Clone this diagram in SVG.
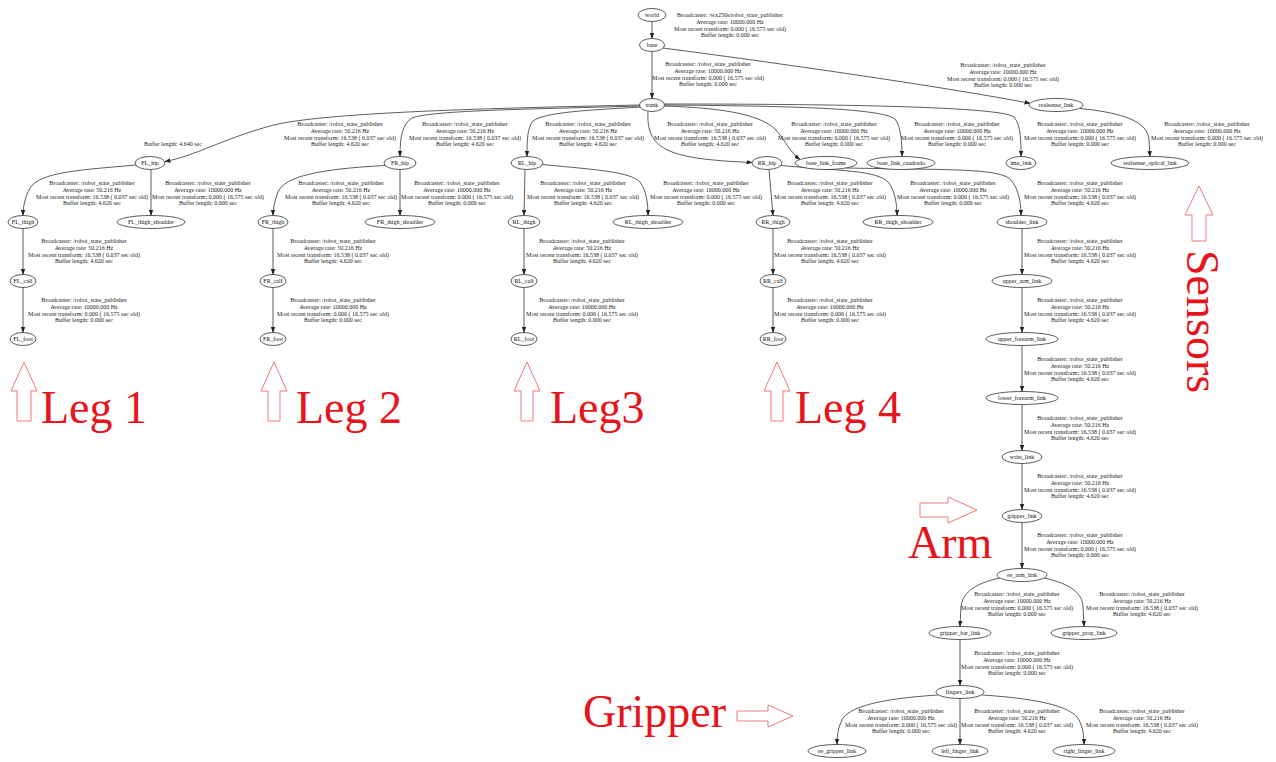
<svg xmlns="http://www.w3.org/2000/svg" width="1276" height="762" viewBox="0 0 1276 762">
<defs>
  <marker id="ah" markerWidth="6" markerHeight="5" refX="5.5" refY="2.5" orient="auto" markerUnits="userSpaceOnUse">
    <path d="M0,0.3 L6,2.5 L0,4.7 z" fill="#222"/>
  </marker>
</defs>
<style>
  .n ellipse { fill: #fff; stroke: #333; stroke-width: 0.8; }
  .n text { font-family: "Liberation Serif", serif; font-size: 6px; text-anchor: middle; fill: #111; }
  .e path { fill: none; stroke: #333; stroke-width: 0.8; marker-end: url(#ah); }
  .lbl { font-family: "Liberation Serif", serif; font-size: 6px; text-anchor: middle; fill: #222; }
  .red { font-family: "Liberation Serif", serif; font-size: 46px; fill: #e8141b; }
  .hol { fill: none; stroke: #f27878; stroke-width: 1; }
</style>
<rect width="1276" height="762" fill="#fff"/>

<!-- connectors -->
<g id="edges" class="e">
  <path d="M652,21.5 L652,38.5"/>
  <path d="M652,51.5 L652,98.5"/>
  <path d="M663,48 C800,66 950,88 1030,103.3"/>
  <path d="M1080,108.5 C1125,113 1148,122 1149,140 L1150,156.5"/>
  <path d="M640,105 C500,108 320,112 270,126 C220,140 195,156 165,161.5"/>
  <path d="M640,106 C540,109 432,110 412,118 C402,124 400,138 400,156.5"/>
  <path d="M641,107 C590,110 545,112 533,121 C527,128 527,142 527,156.5"/>
  <path d="M648,111.5 C646,150 668,159 752,162.5"/>
  <path d="M664,106 C730,108 762,116 776,130 C786,142 790,152 800,159.5"/>
  <path d="M664,105 C790,106 880,108 895,119 C901,127 902,142 902,156.5"/>
  <path d="M664,104 C820,104 1000,106 1014,117 C1021,125 1021,142 1021,156.5"/>
  <path d="M136,165 C80,170 40,172 30,188 C25,197 23,207 23,215.5"/>
  <path d="M151,169.5 L151,215.5"/>
  <path d="M385,165.5 C320,169 285,176 278,192 C275,200 273,208 273,215.5"/>
  <path d="M400,169.5 L400,215.5"/>
  <path d="M525,169.5 L524,215.5"/>
  <path d="M542,164.5 C600,170 630,172 640,182 C646,190 648,202 648,215.5"/>
  <path d="M769,169.5 L773,215.5"/>
  <path d="M781,165.5 C840,171 878,170 889,183 C895,192 897,204 897,215.5"/>
  <path d="M846,168 C950,170 1000,168 1011,180 C1019,190 1021,203 1021,215.5"/>
  <path d="M23,228.5 L23,274.5"/>
  <path d="M23,287.5 L23,332.5"/>
  <path d="M273,228.5 L273,274.5"/>
  <path d="M273,287.5 L273,332.5"/>
  <path d="M524,228.5 L524,274.5"/>
  <path d="M524,287.5 L524,332.5"/>
  <path d="M773,228.5 L773,274.5"/>
  <path d="M773,287.5 L773,332.5"/>
  <path d="M1022,228.5 L1022,274.5"/>
  <path d="M1022,287.5 L1022,332.5"/>
  <path d="M1022,345.5 L1022,391.5"/>
  <path d="M1022,404.5 L1022,450.5"/>
  <path d="M1022,463.5 L1022,509.5"/>
  <path d="M1022,522.5 L1022,568.5"/>
  <path d="M1000,578 C972,584 963,594 961,606 L960,626.5"/>
  <path d="M1044,578 C1072,584 1082,594 1083,606 L1084,626.5"/>
  <path d="M960,639.5 L960,685.5"/>
  <path d="M938,695 C875,699 848,708 842,720 C838,728 837,736 837,744.5"/>
  <path d="M960,698.5 L960,744.5"/>
  <path d="M982,695 C1045,699 1073,708 1079,720 C1083,728 1084,736 1084,744.5"/>
</g>

<!-- edge labels -->
<g id="edge-labels" class="lbl">
  <text x="730" y="17"><tspan x="730">Broadcaster: /wx250s/robot_state_publisher</tspan><tspan x="730" dy="6.8">Average rate: 10000.000 Hz</tspan><tspan x="730" dy="6.8">Most recent transform: 0.000 ( 16.575 sec old)</tspan><tspan x="730" dy="6.8">Buffer length: 0.000 sec</tspan></text>
  <text x="708" y="66"><tspan x="708">Broadcaster: /robot_state_publisher</tspan><tspan x="708" dy="6.8">Average rate: 10000.000 Hz</tspan><tspan x="708" dy="6.8">Most recent transform: 0.000 ( 16.575 sec old)</tspan><tspan x="708" dy="6.8">Buffer length: 0.000 sec</tspan></text>
  <text x="1003" y="67"><tspan x="1003">Broadcaster: /robot_state_publisher</tspan><tspan x="1003" dy="6.8">Average rate: 10000.000 Hz</tspan><tspan x="1003" dy="6.8">Most recent transform: 0.000 ( 16.575 sec old)</tspan><tspan x="1003" dy="6.8">Buffer length: 0.000 sec</tspan></text>

  <text x="173" y="146">Buffer length: 4.640 sec</text>
  <text x="340" y="126"><tspan x="340">Broadcaster: /robot_state_publisher</tspan><tspan x="340" dy="6.8">Average rate: 50.216 Hz</tspan><tspan x="340" dy="6.8">Most recent transform: 16.538 ( 0.037 sec old)</tspan><tspan x="340" dy="6.8">Buffer length: 4.620 sec</tspan></text>
  <text x="465" y="126"><tspan x="465">Broadcaster: /robot_state_publisher</tspan><tspan x="465" dy="6.8">Average rate: 50.216 Hz</tspan><tspan x="465" dy="6.8">Most recent transform: 16.538 ( 0.037 sec old)</tspan><tspan x="465" dy="6.8">Buffer length: 4.620 sec</tspan></text>
  <text x="588" y="126"><tspan x="588">Broadcaster: /robot_state_publisher</tspan><tspan x="588" dy="6.8">Average rate: 50.216 Hz</tspan><tspan x="588" dy="6.8">Most recent transform: 16.538 ( 0.037 sec old)</tspan><tspan x="588" dy="6.8">Buffer length: 4.620 sec</tspan></text>
  <text x="710" y="126"><tspan x="710">Broadcaster: /robot_state_publisher</tspan><tspan x="710" dy="6.8">Average rate: 50.216 Hz</tspan><tspan x="710" dy="6.8">Most recent transform: 16.538 ( 0.037 sec old)</tspan><tspan x="710" dy="6.8">Buffer length: 4.620 sec</tspan></text>
  <text x="834" y="126"><tspan x="834">Broadcaster: /robot_state_publisher</tspan><tspan x="834" dy="6.8">Average rate: 10000.000 Hz</tspan><tspan x="834" dy="6.8">Most recent transform: 0.000 ( 16.575 sec old)</tspan><tspan x="834" dy="6.8">Buffer length: 0.000 sec</tspan></text>
  <text x="957" y="126"><tspan x="957">Broadcaster: /robot_state_publisher</tspan><tspan x="957" dy="6.8">Average rate: 10000.000 Hz</tspan><tspan x="957" dy="6.8">Most recent transform: 0.000 ( 16.575 sec old)</tspan><tspan x="957" dy="6.8">Buffer length: 0.000 sec</tspan></text>
  <text x="1080" y="126"><tspan x="1080">Broadcaster: /robot_state_publisher</tspan><tspan x="1080" dy="6.8">Average rate: 10000.000 Hz</tspan><tspan x="1080" dy="6.8">Most recent transform: 0.000 ( 16.575 sec old)</tspan><tspan x="1080" dy="6.8">Buffer length: 0.000 sec</tspan></text>
  <text x="1207" y="126"><tspan x="1207">Broadcaster: /robot_state_publisher</tspan><tspan x="1207" dy="6.8">Average rate: 10000.000 Hz</tspan><tspan x="1207" dy="6.8">Most recent transform: 0.000 ( 16.575 sec old)</tspan><tspan x="1207" dy="6.8">Buffer length: 0.000 sec</tspan></text>

  <text x="92" y="185"><tspan x="92">Broadcaster: /robot_state_publisher</tspan><tspan x="92" dy="6.8">Average rate: 50.216 Hz</tspan><tspan x="92" dy="6.8">Most recent transform: 16.538 ( 0.037 sec old)</tspan><tspan x="92" dy="6.8">Buffer length: 4.620 sec</tspan></text>
  <text x="208" y="185"><tspan x="208">Broadcaster: /robot_state_publisher</tspan><tspan x="208" dy="6.8">Average rate: 10000.000 Hz</tspan><tspan x="208" dy="6.8">Most recent transform: 0.000 ( 16.575 sec old)</tspan><tspan x="208" dy="6.8">Buffer length: 0.000 sec</tspan></text>
  <text x="341" y="185"><tspan x="341">Broadcaster: /robot_state_publisher</tspan><tspan x="341" dy="6.8">Average rate: 50.216 Hz</tspan><tspan x="341" dy="6.8">Most recent transform: 16.538 ( 0.037 sec old)</tspan><tspan x="341" dy="6.8">Buffer length: 4.620 sec</tspan></text>
  <text x="457" y="185"><tspan x="457">Broadcaster: /robot_state_publisher</tspan><tspan x="457" dy="6.8">Average rate: 10000.000 Hz</tspan><tspan x="457" dy="6.8">Most recent transform: 0.000 ( 16.575 sec old)</tspan><tspan x="457" dy="6.8">Buffer length: 0.000 sec</tspan></text>
  <text x="583" y="185"><tspan x="583">Broadcaster: /robot_state_publisher</tspan><tspan x="583" dy="6.8">Average rate: 50.216 Hz</tspan><tspan x="583" dy="6.8">Most recent transform: 16.538 ( 0.037 sec old)</tspan><tspan x="583" dy="6.8">Buffer length: 4.620 sec</tspan></text>
  <text x="706" y="185"><tspan x="706">Broadcaster: /robot_state_publisher</tspan><tspan x="706" dy="6.8">Average rate: 10000.000 Hz</tspan><tspan x="706" dy="6.8">Most recent transform: 0.000 ( 16.575 sec old)</tspan><tspan x="706" dy="6.8">Buffer length: 0.000 sec</tspan></text>
  <text x="830" y="185"><tspan x="830">Broadcaster: /robot_state_publisher</tspan><tspan x="830" dy="6.8">Average rate: 50.216 Hz</tspan><tspan x="830" dy="6.8">Most recent transform: 16.538 ( 0.037 sec old)</tspan><tspan x="830" dy="6.8">Buffer length: 4.620 sec</tspan></text>
  <text x="953" y="185"><tspan x="953">Broadcaster: /robot_state_publisher</tspan><tspan x="953" dy="6.8">Average rate: 10000.000 Hz</tspan><tspan x="953" dy="6.8">Most recent transform: 0.000 ( 16.575 sec old)</tspan><tspan x="953" dy="6.8">Buffer length: 0.000 sec</tspan></text>
  <text x="1080" y="185"><tspan x="1080">Broadcaster: /robot_state_publisher</tspan><tspan x="1080" dy="6.8">Average rate: 50.216 Hz</tspan><tspan x="1080" dy="6.8">Most recent transform: 16.538 ( 0.037 sec old)</tspan><tspan x="1080" dy="6.8">Buffer length: 4.620 sec</tspan></text>

  <text x="84" y="243"><tspan x="84">Broadcaster: /robot_state_publisher</tspan><tspan x="84" dy="6.8">Average rate: 50.216 Hz</tspan><tspan x="84" dy="6.8">Most recent transform: 16.538 ( 0.037 sec old)</tspan><tspan x="84" dy="6.8">Buffer length: 4.620 sec</tspan></text>
  <text x="333" y="243"><tspan x="333">Broadcaster: /robot_state_publisher</tspan><tspan x="333" dy="6.8">Average rate: 50.216 Hz</tspan><tspan x="333" dy="6.8">Most recent transform: 16.538 ( 0.037 sec old)</tspan><tspan x="333" dy="6.8">Buffer length: 4.620 sec</tspan></text>
  <text x="582" y="243"><tspan x="582">Broadcaster: /robot_state_publisher</tspan><tspan x="582" dy="6.8">Average rate: 50.216 Hz</tspan><tspan x="582" dy="6.8">Most recent transform: 16.538 ( 0.037 sec old)</tspan><tspan x="582" dy="6.8">Buffer length: 4.620 sec</tspan></text>
  <text x="830" y="243"><tspan x="830">Broadcaster: /robot_state_publisher</tspan><tspan x="830" dy="6.8">Average rate: 50.216 Hz</tspan><tspan x="830" dy="6.8">Most recent transform: 16.538 ( 0.037 sec old)</tspan><tspan x="830" dy="6.8">Buffer length: 4.620 sec</tspan></text>
  <text x="1080" y="243"><tspan x="1080">Broadcaster: /robot_state_publisher</tspan><tspan x="1080" dy="6.8">Average rate: 50.216 Hz</tspan><tspan x="1080" dy="6.8">Most recent transform: 16.538 ( 0.037 sec old)</tspan><tspan x="1080" dy="6.8">Buffer length: 4.620 sec</tspan></text>

  <text x="84" y="302"><tspan x="84">Broadcaster: /robot_state_publisher</tspan><tspan x="84" dy="6.8">Average rate: 10000.000 Hz</tspan><tspan x="84" dy="6.8">Most recent transform: 0.000 ( 16.575 sec old)</tspan><tspan x="84" dy="6.8">Buffer length: 0.000 sec</tspan></text>
  <text x="333" y="302"><tspan x="333">Broadcaster: /robot_state_publisher</tspan><tspan x="333" dy="6.8">Average rate: 10000.000 Hz</tspan><tspan x="333" dy="6.8">Most recent transform: 0.000 ( 16.575 sec old)</tspan><tspan x="333" dy="6.8">Buffer length: 0.000 sec</tspan></text>
  <text x="582" y="302"><tspan x="582">Broadcaster: /robot_state_publisher</tspan><tspan x="582" dy="6.8">Average rate: 10000.000 Hz</tspan><tspan x="582" dy="6.8">Most recent transform: 0.000 ( 16.575 sec old)</tspan><tspan x="582" dy="6.8">Buffer length: 0.000 sec</tspan></text>
  <text x="830" y="302"><tspan x="830">Broadcaster: /robot_state_publisher</tspan><tspan x="830" dy="6.8">Average rate: 10000.000 Hz</tspan><tspan x="830" dy="6.8">Most recent transform: 0.000 ( 16.575 sec old)</tspan><tspan x="830" dy="6.8">Buffer length: 0.000 sec</tspan></text>
  <text x="1080" y="302"><tspan x="1080">Broadcaster: /robot_state_publisher</tspan><tspan x="1080" dy="6.8">Average rate: 50.216 Hz</tspan><tspan x="1080" dy="6.8">Most recent transform: 16.538 ( 0.037 sec old)</tspan><tspan x="1080" dy="6.8">Buffer length: 4.620 sec</tspan></text>

  <text x="1080" y="361"><tspan x="1080">Broadcaster: /robot_state_publisher</tspan><tspan x="1080" dy="6.8">Average rate: 50.216 Hz</tspan><tspan x="1080" dy="6.8">Most recent transform: 16.538 ( 0.037 sec old)</tspan><tspan x="1080" dy="6.8">Buffer length: 4.620 sec</tspan></text>
  <text x="1080" y="420"><tspan x="1080">Broadcaster: /robot_state_publisher</tspan><tspan x="1080" dy="6.8">Average rate: 50.216 Hz</tspan><tspan x="1080" dy="6.8">Most recent transform: 16.538 ( 0.037 sec old)</tspan><tspan x="1080" dy="6.8">Buffer length: 4.620 sec</tspan></text>
  <text x="1080" y="478"><tspan x="1080">Broadcaster: /robot_state_publisher</tspan><tspan x="1080" dy="6.8">Average rate: 50.216 Hz</tspan><tspan x="1080" dy="6.8">Most recent transform: 16.538 ( 0.037 sec old)</tspan><tspan x="1080" dy="6.8">Buffer length: 4.620 sec</tspan></text>
  <text x="1080" y="537"><tspan x="1080">Broadcaster: /robot_state_publisher</tspan><tspan x="1080" dy="6.8">Average rate: 10000.000 Hz</tspan><tspan x="1080" dy="6.8">Most recent transform: 0.000 ( 16.575 sec old)</tspan><tspan x="1080" dy="6.8">Buffer length: 0.000 sec</tspan></text>

  <text x="1017" y="596"><tspan x="1017">Broadcaster: /robot_state_publisher</tspan><tspan x="1017" dy="6.8">Average rate: 10000.000 Hz</tspan><tspan x="1017" dy="6.8">Most recent transform: 0.000 ( 16.575 sec old)</tspan><tspan x="1017" dy="6.8">Buffer length: 0.000 sec</tspan></text>
  <text x="1142" y="596"><tspan x="1142">Broadcaster: /robot_state_publisher</tspan><tspan x="1142" dy="6.8">Average rate: 50.216 Hz</tspan><tspan x="1142" dy="6.8">Most recent transform: 16.538 ( 0.037 sec old)</tspan><tspan x="1142" dy="6.8">Buffer length: 4.620 sec</tspan></text>
  <text x="1017" y="655"><tspan x="1017">Broadcaster: /robot_state_publisher</tspan><tspan x="1017" dy="6.8">Average rate: 10000.000 Hz</tspan><tspan x="1017" dy="6.8">Most recent transform: 0.000 ( 16.575 sec old)</tspan><tspan x="1017" dy="6.8">Buffer length: 0.000 sec</tspan></text>

  <text x="901" y="713"><tspan x="901">Broadcaster: /robot_state_publisher</tspan><tspan x="901" dy="6.8">Average rate: 10000.000 Hz</tspan><tspan x="901" dy="6.8">Most recent transform: 0.000 ( 16.575 sec old)</tspan><tspan x="901" dy="6.8">Buffer length: 0.000 sec</tspan></text>
  <text x="1017" y="713"><tspan x="1017">Broadcaster: /robot_state_publisher</tspan><tspan x="1017" dy="6.8">Average rate: 50.216 Hz</tspan><tspan x="1017" dy="6.8">Most recent transform: 16.538 ( 0.037 sec old)</tspan><tspan x="1017" dy="6.8">Buffer length: 4.620 sec</tspan></text>
  <text x="1142" y="713"><tspan x="1142">Broadcaster: /robot_state_publisher</tspan><tspan x="1142" dy="6.8">Average rate: 50.216 Hz</tspan><tspan x="1142" dy="6.8">Most recent transform: 16.538 ( 0.037 sec old)</tspan><tspan x="1142" dy="6.8">Buffer length: 4.620 sec</tspan></text>
</g>

<!-- frames -->
<g id="world" class="n"><ellipse cx="652" cy="15" rx="14" ry="6.5"/><text x="652" y="17">world</text></g>
<g id="base" class="n"><ellipse cx="652" cy="45" rx="12.5" ry="6.5"/><text x="652" y="47">base</text></g>
<g id="trunk" class="n"><ellipse cx="652" cy="105" rx="12.5" ry="6.5"/><text x="652" y="107">trunk</text></g>
<g id="realsense_link" class="n"><ellipse cx="1056" cy="105" rx="27" ry="6.5"/><text x="1056" y="107">realsense_link</text></g>

<g id="FL_hip" class="n"><ellipse cx="150" cy="163" rx="15" ry="6.5"/><text x="150" y="165">FL_hip</text></g>
<g id="FR_hip" class="n"><ellipse cx="400" cy="163" rx="16" ry="6.5"/><text x="400" y="165">FR_hip</text></g>
<g id="RL_hip" class="n"><ellipse cx="527" cy="163" rx="16" ry="6.5"/><text x="527" y="165">RL_hip</text></g>
<g id="RR_hip" class="n"><ellipse cx="767" cy="163" rx="15" ry="6.5"/><text x="767" y="165">RR_hip</text></g>
<g id="base_link_frame" class="n"><ellipse cx="826" cy="163" rx="31" ry="6.5"/><text x="826" y="165">base_link_frame</text></g>
<g id="base_link_cuadrado" class="n"><ellipse cx="901" cy="163" rx="34" ry="6.5"/><text x="901" y="165">base_link_cuadrado</text></g>
<g id="imu_link" class="n"><ellipse cx="1021" cy="163" rx="15" ry="6.5"/><text x="1021" y="165">imu_link</text></g>
<g id="realsense_optical_link" class="n"><ellipse cx="1150" cy="163" rx="39" ry="6.5"/><text x="1150" y="165">realsense_optical_link</text></g>

<g id="FL_thigh" class="n"><ellipse cx="23" cy="222" rx="15" ry="6.5"/><text x="23" y="224">FL_thigh</text></g>
<g id="FL_thigh_shoulder" class="n"><ellipse cx="151" cy="222" rx="34" ry="6.5"/><text x="151" y="224">FL_thigh_shoulder</text></g>
<g id="FR_thigh" class="n"><ellipse cx="273" cy="222" rx="15" ry="6.5"/><text x="273" y="224">FR_thigh</text></g>
<g id="FR_thigh_shoulder" class="n"><ellipse cx="400" cy="222" rx="35" ry="6.5"/><text x="400" y="224">FR_thigh_shoulder</text></g>
<g id="RL_thigh" class="n"><ellipse cx="524" cy="222" rx="16" ry="6.5"/><text x="524" y="224">RL_thigh</text></g>
<g id="RL_thigh_shoulder" class="n"><ellipse cx="648" cy="222" rx="35" ry="6.5"/><text x="648" y="224">RL_thigh_shoulder</text></g>
<g id="RR_thigh" class="n"><ellipse cx="773" cy="222" rx="17" ry="6.5"/><text x="773" y="224">RR_thigh</text></g>
<g id="RR_thigh_shoulder" class="n"><ellipse cx="898" cy="222" rx="35" ry="6.5"/><text x="898" y="224">RR_thigh_shoulder</text></g>
<g id="shoulder_link" class="n"><ellipse cx="1022" cy="222" rx="25" ry="6.5"/><text x="1022" y="224">shoulder_link</text></g>

<g id="FL_calf" class="n"><ellipse cx="23" cy="281" rx="13" ry="6.5"/><text x="23" y="283">FL_calf</text></g>
<g id="FR_calf" class="n"><ellipse cx="273" cy="281" rx="13" ry="6.5"/><text x="273" y="283">FR_calf</text></g>
<g id="RL_calf" class="n"><ellipse cx="524" cy="281" rx="13" ry="6.5"/><text x="524" y="283">RL_calf</text></g>
<g id="RR_calf" class="n"><ellipse cx="773" cy="281" rx="13" ry="6.5"/><text x="773" y="283">RR_calf</text></g>
<g id="upper_arm_link" class="n"><ellipse cx="1022" cy="281" rx="30" ry="6.5"/><text x="1022" y="283">upper_arm_link</text></g>

<g id="FL_foot" class="n"><ellipse cx="23" cy="339" rx="13" ry="6.5"/><text x="23" y="341">FL_foot</text></g>
<g id="FR_foot" class="n"><ellipse cx="273" cy="339" rx="13" ry="6.5"/><text x="273" y="341">FR_foot</text></g>
<g id="RL_foot" class="n"><ellipse cx="524" cy="339" rx="13" ry="6.5"/><text x="524" y="341">RL_foot</text></g>
<g id="RR_foot" class="n"><ellipse cx="773" cy="339" rx="13" ry="6.5"/><text x="773" y="341">RR_foot</text></g>
<g id="upper_forearm_link" class="n"><ellipse cx="1022" cy="339" rx="36" ry="6.5"/><text x="1022" y="341">upper_forearm_link</text></g>

<g id="lower_forearm_link" class="n"><ellipse cx="1022" cy="398" rx="36" ry="6.5"/><text x="1022" y="400">lower_forearm_link</text></g>
<g id="wrist_link" class="n"><ellipse cx="1022" cy="457" rx="20" ry="6.5"/><text x="1022" y="459">wrist_link</text></g>
<g id="gripper_link" class="n"><ellipse cx="1022" cy="516" rx="20" ry="6.5"/><text x="1022" y="518">gripper_link</text></g>
<g id="ee_arm_link" class="n"><ellipse cx="1022" cy="575" rx="25" ry="6.5"/><text x="1022" y="577">ee_arm_link</text></g>
<g id="gripper_bar_link" class="n"><ellipse cx="960" cy="633" rx="31" ry="6.5"/><text x="960" y="635">gripper_bar_link</text></g>
<g id="gripper_prop_link" class="n"><ellipse cx="1084" cy="633" rx="33" ry="6.5"/><text x="1084" y="635">gripper_prop_link</text></g>
<g id="fingers_link" class="n"><ellipse cx="960" cy="692" rx="24" ry="6.5"/><text x="960" y="694">fingers_link</text></g>
<g id="ee_gripper_link" class="n"><ellipse cx="837" cy="751" rx="29" ry="6.5"/><text x="837" y="753">ee_gripper_link</text></g>
<g id="left_finger_link" class="n"><ellipse cx="960" cy="751" rx="28" ry="6.5"/><text x="960" y="753">left_finger_link</text></g>
<g id="right_finger_link" class="n"><ellipse cx="1084" cy="751" rx="31" ry="6.5"/><text x="1084" y="753">right_finger_link</text></g>

<!-- red group annotations -->
<g id="annotations">
  <polygon class="hol" points="24,362 37,391 31,391 31,421 17,421 17,391 11,391"/>
  <text class="red" x="41" y="423">Leg 1</text>
  <polygon class="hol" points="274,362 287,391 280,391 280,421 268,421 268,391 261,391"/>
  <text class="red" x="296" y="423">Leg 2</text>
  <polygon class="hol" points="527,362 540,391 533,391 533,421 521,421 521,391 514,391"/>
  <text class="red" x="550" y="423">Leg3</text>
  <polygon class="hol" points="777,362 790,391 783,391 783,421 771,421 771,391 764,391"/>
  <text class="red" x="795" y="423">Leg 4</text>
  <polygon class="hol" points="1199,186 1213,215 1206,215 1206,241 1192,241 1192,215 1185,215"/>
  <text class="red" transform="translate(1187,250) rotate(90)">Sensors</text>
  <polygon class="hol" points="920,503 948,503 948,497 977,510 948,523 948,517 920,517"/>
  <text class="red" x="908" y="558">Arm</text>
  <polygon class="hol" points="737,711 768,711 768,705 793,716 768,727 768,721 737,721"/>
  <text class="red" x="583" y="727">Gripper</text>
</g>
</svg>
